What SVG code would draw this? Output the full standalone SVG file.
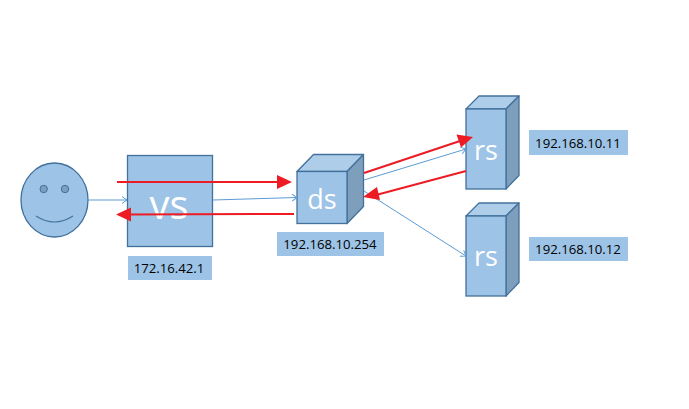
<svg xmlns="http://www.w3.org/2000/svg" width="689" height="409" viewBox="0 0 689 409">
<style>
.f{fill:#9dc3e6;stroke:#41719c;stroke-width:1.3}
.t{fill:#aecde9;stroke:#41719c;stroke-width:1.3;stroke-linejoin:round}
.s{fill:#7e9fbc;stroke:#41719c;stroke-width:1.3;stroke-linejoin:round}
.w{fill:#fff;font-family:"Open Sans","Noto Sans",sans-serif;text-anchor:middle}
.lb{fill:#9dc3e6}
.l{fill:#000;font-family:"Open Sans","Noto Sans",sans-serif;font-size:13.200px;text-anchor:middle}
.b{fill:none;stroke:#5b9bd5;stroke-width:1}
.r{fill:none;stroke:#ed1c24;stroke-width:2}
.rh{fill:#ed1c24}
</style>
<defs>
<marker id="o" markerUnits="userSpaceOnUse" markerWidth="10" markerHeight="10" refX="8" refY="5" orient="auto"><path d="M3 1.5 8 5 3 8.500" fill="none" stroke="#5b9bd5" stroke-width="1"/></marker>
</defs>
<g id="face">
<ellipse class="f" cx="54.500" cy="200" rx="33.500" ry="37"/>
<circle cx="43.700" cy="189" r="3.700" fill="#7e9fbc" stroke="#41719c"/>
<circle cx="65" cy="189" r="3.700" fill="#7e9fbc" stroke="#41719c"/>
<path d="M36 216Q54.500 228 73 216" fill="none" stroke="#41719c" stroke-width="1.200"/>
</g>
<g id="vs">
<rect class="f" x="127.500" y="155.500" width="85" height="91"/>
<text class="w" x="169" y="219" font-size="40">vs</text>
</g>
<g id="ds">
<path class="t" d="M297 171.500 313.500 154.500H363.500L347 171.500Z"/>
<path class="s" d="M347 171.500 363.500 154.500V206.500L347 223.500Z"/>
<rect class="f" x="297" y="171.500" width="50" height="52"/>
<text class="w" x="322" y="209" font-size="27">ds</text>
</g>
<g id="rs1">
<path class="t" d="M466 109 479 96H519L506 109Z"/>
<path class="s" d="M506 109 519 96V175.500L506 189Z"/>
<rect class="f" x="466" y="109" width="40" height="80"/>
<text class="w" x="486" y="160" font-size="27">rs</text>
</g>
<g id="rs2">
<path class="t" d="M466 216 479 203H519L506 216Z"/>
<path class="s" d="M506 216 519 203V282.500L506 296Z"/>
<rect class="f" x="466" y="216" width="40" height="80"/>
<text class="w" x="486" y="266" font-size="27">rs</text>
</g>
<g id="connectors">
<path class="b" marker-end="url(#o)" d="M88 200H127"/>
<path class="b" marker-end="url(#o)" d="M213 200 297 197.500"/>
<path class="b" marker-end="url(#o)" d="M364 180 466 149"/>
<path class="b" marker-end="url(#o)" d="M364 191 466 256"/>
<path class="r" d="M117 182H280"/>
<path class="rh" d="M277 175 292 182 277 189Z"/>
<path class="r" d="M294 214 128 214.500"/>
<path class="rh" d="M131 207.500 116 214.500 131 221.500Z"/>
<path class="r" d="M364 173 460 141"/>
<path class="rh" d="M456.500 134.500 473 137 461 147.500Z"/>
<path class="r" d="M466 171 376 195"/>
<path class="rh" d="M377 187 363 197 380 200Z"/>
</g>
<g id="label-vs">
<rect class="lb" x="128" y="256" width="84" height="24"/>
<text class="l" x="169" y="273">172.16.42.1</text>
</g>
<g id="label-ds">
<rect class="lb" x="277" y="232" width="107" height="24"/>
<text class="l" x="330" y="249">192.168.10.254</text>
</g>
<g id="label-rs1">
<rect class="lb" x="529" y="130" width="99" height="25"/>
<text class="l" x="578" y="148">192.168.10.11</text>
</g>
<g id="label-rs2">
<rect class="lb" x="529" y="237" width="99" height="24"/>
<text class="l" x="578" y="254">192.168.10.12</text>
</g>
</svg>
